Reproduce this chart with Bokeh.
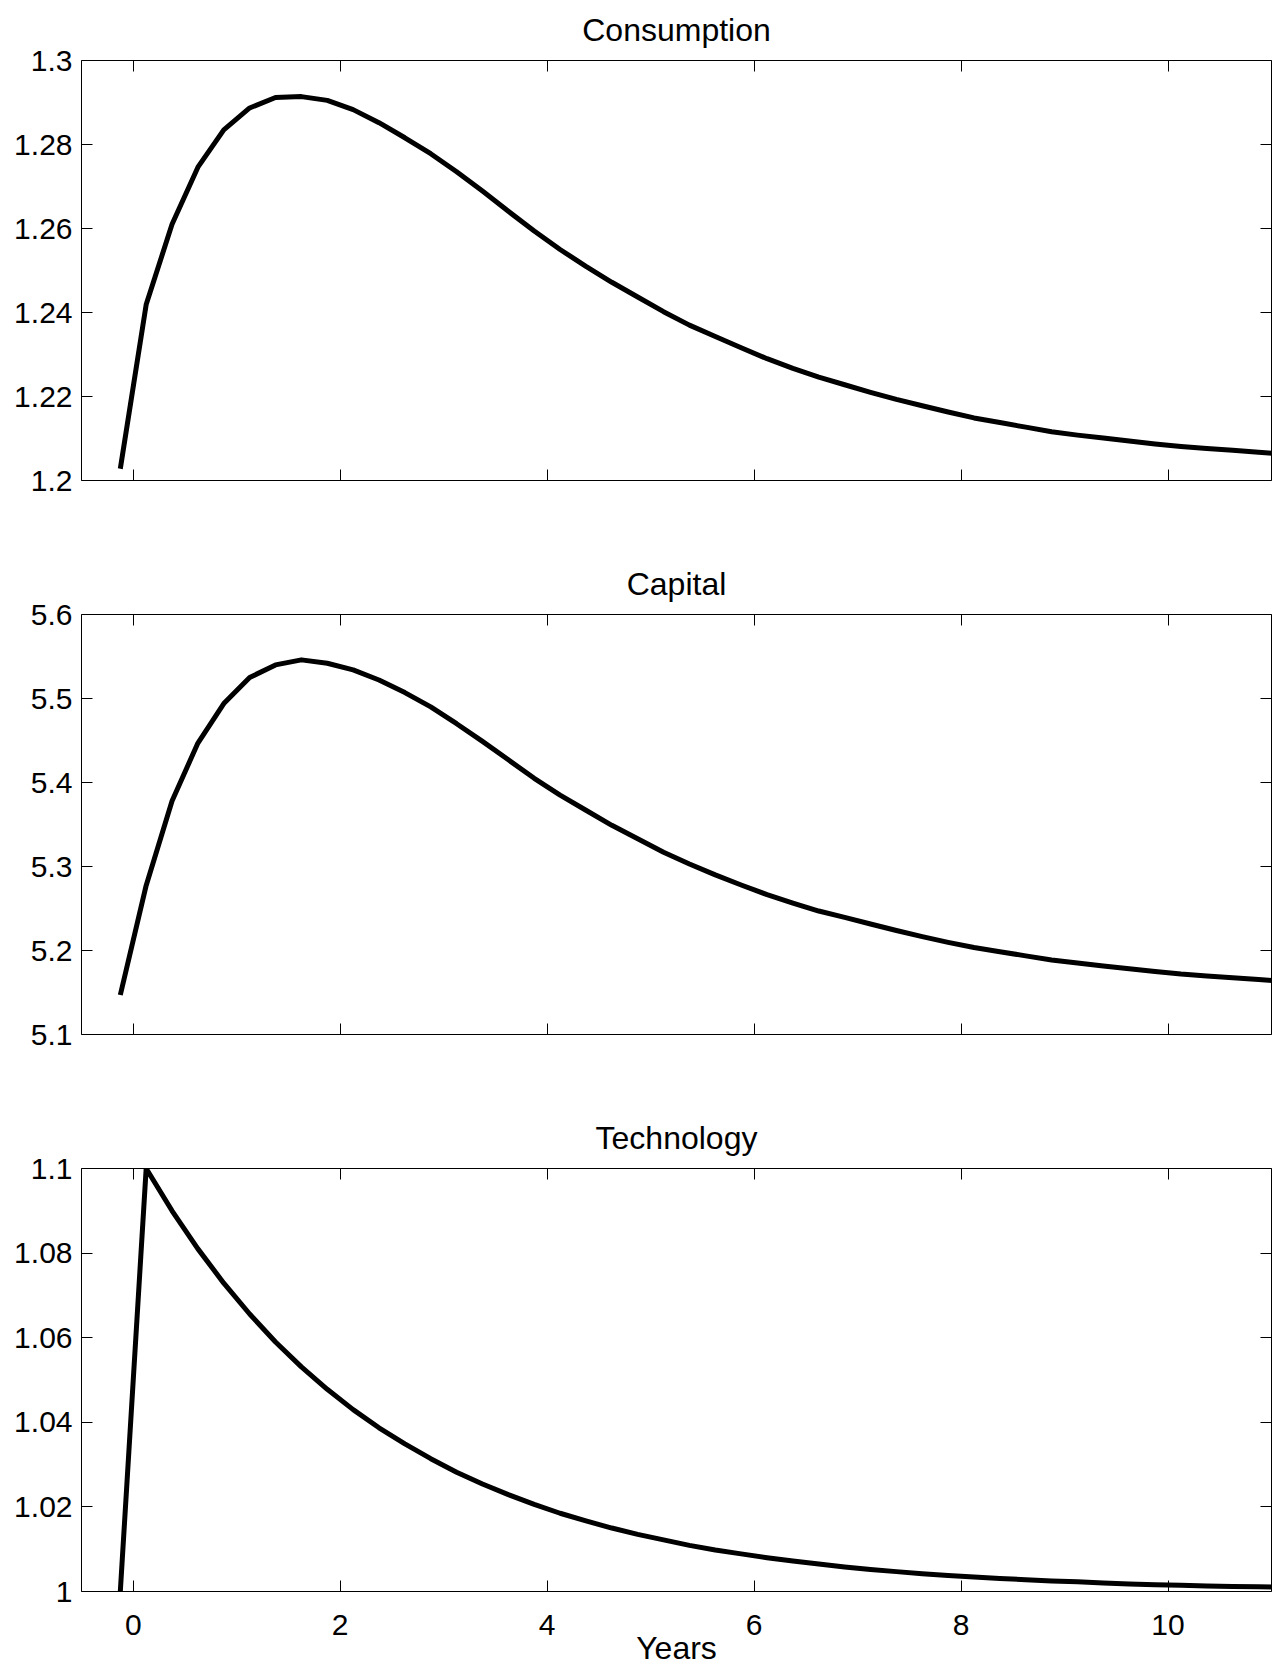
from bokeh.plotting import figure
from bokeh.models import Range1d, FixedTicker, LinearAxis, CustomLabelingPolicy
from bokeh.layouts import column
from bokeh.embed import file_html
from bokeh.resources import INLINE

# ---------------- data ----------------
years = [-0.125, 0.125, 0.375, 0.625, 0.875, 1.125, 1.375, 1.625, 1.875, 2.125,
         2.375, 2.625, 2.875, 3.125, 3.375, 3.625, 3.875, 4.125, 4.375, 4.625,
         4.875, 5.125, 5.375, 5.625, 5.875, 6.125, 6.375, 6.625, 6.875, 7.125,
         7.375, 7.625, 7.875, 8.125, 8.375, 8.625, 8.875, 9.125, 9.375, 9.625,
         9.875, 10.125, 10.375, 10.625, 10.875, 11.125]

consumption = [1.2028, 1.2419, 1.2610, 1.2746, 1.2835, 1.2887, 1.2912, 1.2914, 1.2905, 1.2883,
               1.2852, 1.2816, 1.2778, 1.2735, 1.2689, 1.2641, 1.2594, 1.2550, 1.2510, 1.2472,
               1.2437, 1.2402, 1.2370, 1.2343, 1.2316, 1.2290, 1.2267, 1.2246, 1.2228, 1.2210,
               1.2193, 1.2178, 1.2163, 1.2149, 1.2138, 1.2127, 1.2116, 1.2108, 1.2101, 1.2094,
               1.2087, 1.2081, 1.2076, 1.2072, 1.2067, 1.2063]

capital = [5.147, 5.2775, 5.378, 5.447, 5.494, 5.525, 5.540, 5.546, 5.542, 5.534,
           5.522, 5.507, 5.490, 5.470, 5.449, 5.427, 5.405, 5.385, 5.367, 5.349,
           5.333, 5.317, 5.303, 5.290, 5.278, 5.2665, 5.2564, 5.2470, 5.2395, 5.2316,
           5.2238, 5.2165, 5.2097, 5.2035, 5.1985, 5.1936, 5.1888, 5.1850, 5.1816, 5.1782,
           5.1749, 5.1719, 5.1697, 5.1676, 5.1654, 5.1632]

technology = [1.0, 1.1, 1.09, 1.081, 1.0729, 1.0656, 1.0590, 1.0531, 1.0478, 1.0430,
              1.0387, 1.0349, 1.0314, 1.0282, 1.0254, 1.0229, 1.0206, 1.0185, 1.0167, 1.0150,
              1.0135, 1.0122, 1.0109, 1.0098, 1.0089, 1.0080, 1.0072, 1.0065, 1.0058, 1.0052,
              1.0047, 1.0042, 1.0038, 1.0034, 1.0031, 1.0028, 1.0025, 1.0023, 1.0020, 1.0018,
              1.0016, 1.0015, 1.0013, 1.0012, 1.0011, 1.0010]

x_ticks = [0, 2, 4, 6, 8, 10]
x_tick_labels = ["0", "2", "4", "6", "8", "10"]

cons_ticks = [1.2, 1.22, 1.24, 1.26, 1.28, 1.3]
cons_tick_labels = ["1.2", "1.22", "1.24", "1.26", "1.28", "1.3"]

cap_ticks = [5.1, 5.2, 5.3, 5.4, 5.5, 5.6]
cap_tick_labels = ["5.1", "5.2", "5.3", "5.4", "5.5", "5.6"]

tech_ticks = [1.0, 1.02, 1.04, 1.06, 1.08, 1.1]
tech_tick_labels = ["1", "1.02", "1.04", "1.06", "1.08", "1.1"]

titles = ["Consumption", "Capital", "Technology"]
x_label = "Years"

# ---------------- styling ----------------
FONT = "Liberation Sans"
TICK_SIZE = "30px"
TITLE_SIZE = "32px"


def style_axis(ax, ticks, labels, show_labels):
    ax.ticker = FixedTicker(ticks=ticks)
    ax.major_label_overrides = {t: l for t, l in zip(ticks, labels)}
    ax.major_tick_in = 11
    ax.major_tick_out = 0
    ax.major_tick_line_color = "black"
    ax.major_tick_line_width = 1
    ax.minor_tick_line_color = None
    ax.axis_line_color = None
    ax.major_label_text_font = FONT
    ax.major_label_text_color = "black"
    if show_labels:
        ax.major_label_text_font_size = TICK_SIZE
    else:
        # tick marks only: no label is drawn and no room is taken
        ax.major_label_text_font_size = "0px"
        ax.major_label_policy = CustomLabelingPolicy(code="return []")
        ax.major_label_standoff = 0


def make_panel(title, y, ylo, yhi, yticks, ylabels, height, bottom, show_x):
    p = figure(width=1273, height=height, output_backend="svg", toolbar_location=None,
               x_range=Range1d(-0.5, 11), y_range=Range1d(ylo, yhi),
               min_border_left=81, min_border_right=2, min_border_top=60,
               min_border_bottom=bottom, background_fill_color="white",
               border_fill_color="white")
    p.title.text = title
    p.title.align = "center"
    p.title.vertical_align = "top"
    p.title.text_font = FONT
    p.title.text_font_size = TITLE_SIZE
    p.title.text_font_style = "normal"
    p.title.text_color = "black"
    p.title.standoff = 21
    p.grid.visible = False
    p.outline_line_color = "black"
    p.outline_line_width = 1
    p.outline_line_alpha = 1

    p.line(years, y, line_color="black", line_width=5, line_join="round")

    bottom_axis = p.below[0]
    style_axis(bottom_axis, x_ticks, x_tick_labels, show_x)
    if show_x:
        bottom_axis.major_label_standoff = 23
    style_axis(p.left[0], yticks, ylabels, True)
    p.left[0].major_label_standoff = 9

    top = LinearAxis()
    style_axis(top, x_ticks, x_tick_labels, False)
    p.add_layout(top, "above")
    right = LinearAxis()
    style_axis(right, yticks, ylabels, False)
    p.add_layout(right, "right")
    return p, bottom_axis


p1, _ = make_panel(titles[0], consumption, 1.2, 1.3, cons_ticks, cons_tick_labels, 554, 74, False)
p2, _ = make_panel(titles[1], capital, 5.1, 5.6, cap_ticks, cap_tick_labels, 554, 74, False)
p3, ax3 = make_panel(titles[2], technology, 1.0, 1.1, tech_ticks, tech_tick_labels, 560, 60, True)
ax3.axis_label = x_label
ax3.axis_label_text_font = FONT
ax3.axis_label_text_font_size = TITLE_SIZE
ax3.axis_label_text_font_style = "normal"
ax3.axis_label_text_color = "black"
ax3.axis_label_standoff = -8

layout = column(p1, p2, p3, spacing=0)

open("out.html", "w").write(file_html(layout, INLINE))
